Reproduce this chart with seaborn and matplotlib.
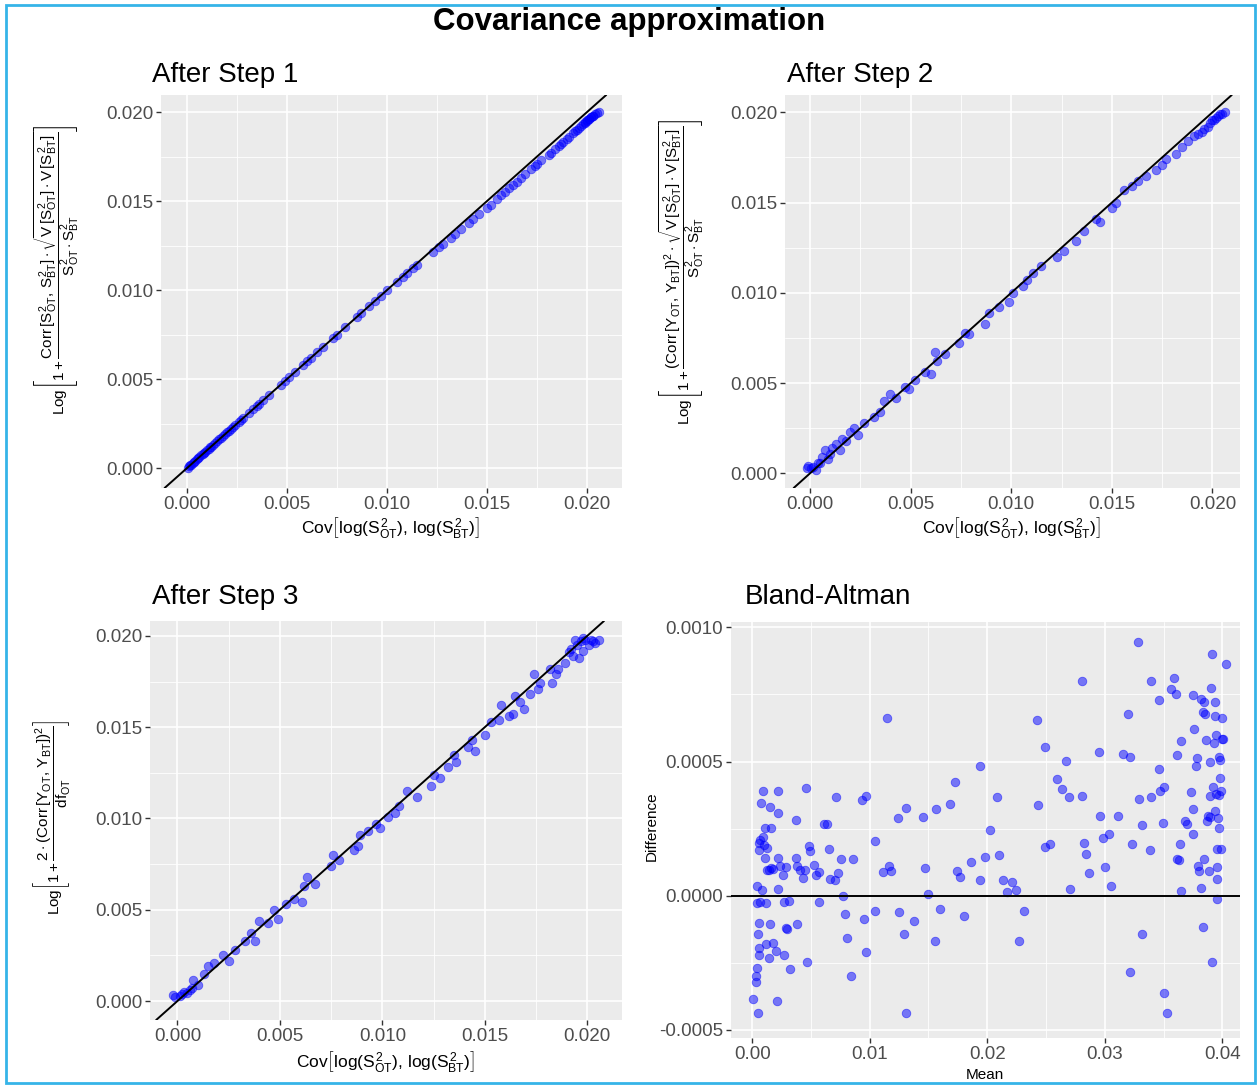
import numpy as np
import pandas as pd
import matplotlib
matplotlib.use("Agg")
import matplotlib.pyplot as plt
from matplotlib.patches import Rectangle
from matplotlib.ticker import FixedLocator, FormatStrFormatter
import seaborn as sns

# ---------------- data ----------------
# Step 1: covariance (x) vs. approximation (y)
step1_x = [0.00005, 0.0001, 0.00015, 0.0002, 0.0003, 0.00035, 0.0004, 0.0005, 0.00055, 0.0006,
           0.0007, 0.0008, 0.00085, 0.0009, 0.001, 0.0011, 0.00115, 0.0012, 0.0013, 0.0014,
           0.0015, 0.0016, 0.0017, 0.0018, 0.0019, 0.002, 0.0021, 0.0022, 0.0023, 0.0024,
           0.0026, 0.0027, 0.0028,
           0.0031, 0.0033, 0.0035, 0.0036, 0.0038, 0.0041,
           0.0047, 0.0049, 0.0051, 0.0054,
           0.0058, 0.006, 0.0062, 0.0065, 0.0068,
           0.0073, 0.0075, 0.0079,
           0.0085, 0.0087, 0.0091,
           0.0094, 0.0097, 0.01,
           0.0105, 0.0108, 0.011, 0.0113,
           0.0115,
           0.0123, 0.0126, 0.0128,
           0.0132, 0.0134, 0.0137,
           0.0141, 0.0143, 0.0146,
           0.015, 0.0152, 0.0155,
           0.0157, 0.0159, 0.0161, 0.0163,
           0.0165, 0.0167, 0.0169,
           0.0172, 0.0174, 0.0175, 0.0177,
           0.0181, 0.0182, 0.0184, 0.0186,
           0.0187, 0.0188, 0.019, 0.0191, 0.0193,
           0.0194, 0.0195, 0.0196, 0.0197, 0.0198, 0.0199, 0.0199, 0.02, 0.02, 0.0201,
           0.0201, 0.0202, 0.0202, 0.0203, 0.0203, 0.0204, 0.0205, 0.0206]
step1_y = [0.00003, 0.0001, 0.00016, 0.0002, 0.00028, 0.00036, 0.0004, 0.00049, 0.00056, 0.0006,
           0.00071, 0.00079, 0.00086, 0.0009, 0.001, 0.00109, 0.00116, 0.0012, 0.0013, 0.00139,
           0.0015, 0.00161, 0.0017, 0.00179, 0.0019, 0.002, 0.00211, 0.0022, 0.0023, 0.00241,
           0.0026, 0.0027, 0.00279,
           0.0031, 0.0033, 0.00349, 0.0036, 0.0038, 0.0041,
           0.00469, 0.0049, 0.0051, 0.0054,
           0.0058, 0.006, 0.00619, 0.0065, 0.0068,
           0.0073, 0.0075, 0.0079,
           0.00848, 0.0087, 0.00908,
           0.0094, 0.00968, 0.00998,
           0.01045, 0.01075, 0.01095, 0.01125,
           0.01142,
           0.01212, 0.0124, 0.0126,
           0.01295, 0.01315, 0.01342,
           0.01378, 0.01398, 0.01425,
           0.01462, 0.0148, 0.0151,
           0.01532, 0.01552, 0.01572, 0.0159,
           0.0161, 0.01632, 0.0165,
           0.01678, 0.01698, 0.0171, 0.0173,
           0.01758, 0.01772, 0.0179, 0.0181,
           0.0182, 0.0183, 0.0185, 0.0186, 0.0188,
           0.01895, 0.0190, 0.01912, 0.0192, 0.01932, 0.0194, 0.01945, 0.0195, 0.01955, 0.0196,
           0.01962, 0.0197, 0.01972, 0.0198, 0.0198, 0.0199, 0.01995, 0.0200]

# Step 2
step2_x = [-0.00017, -0.0001, 0.00005, 0.00017, 0.0003, 0.0004, 0.0005, 0.0006, 0.00075, 0.0009,
           0.001, 0.0011, 0.0013, 0.0015, 0.0016, 0.0018, 0.002, 0.0022, 0.0024, 0.0027,
           0.0032, 0.0035, 0.0037, 0.004, 0.0043, 0.0047, 0.0049, 0.0052, 0.0057, 0.006,
           0.0062, 0.0063, 0.0067, 0.0074, 0.0077, 0.0079, 0.0087, 0.0089, 0.0094, 0.0099,
           0.0101, 0.0106, 0.0108, 0.0111, 0.0115, 0.0123, 0.0126, 0.0132, 0.0136, 0.0142,
           0.0144, 0.015, 0.0152, 0.0156, 0.016, 0.0163, 0.0167, 0.0172, 0.0175, 0.0177,
           0.0182, 0.0185, 0.0188, 0.0191, 0.0193, 0.0195, 0.0196, 0.0198, 0.0199, 0.02,
           0.0201, 0.0202, 0.0203, 0.0204, 0.0205, 0.0206]
step2_y = [0.00028, 0.0004, 0.0003, 0.00037, 0.0002, 0.0006, 0.00055, 0.0009, 0.0013, 0.0008,
           0.0011, 0.0014, 0.0016, 0.0013, 0.0019, 0.0018, 0.0023, 0.0025, 0.0021, 0.0028,
           0.0031, 0.0034, 0.004, 0.0044, 0.0042, 0.0048, 0.0047, 0.0052, 0.0056, 0.0055,
           0.0067, 0.0062, 0.0066, 0.0072, 0.0078, 0.0077, 0.0083, 0.0089, 0.0092, 0.0095,
           0.01, 0.0104, 0.0107, 0.0111, 0.0115, 0.012, 0.0123, 0.0129, 0.0134, 0.0141,
           0.0139, 0.0147, 0.015, 0.0157, 0.0159, 0.0162, 0.0165, 0.0168, 0.0171, 0.0174,
           0.0177, 0.0181, 0.0184, 0.0187, 0.0188, 0.0189, 0.0191, 0.0192, 0.0194, 0.0196,
           0.0196, 0.0197, 0.0198, 0.0199, 0.0199, 0.0200]

# Step 3
step3_x = [-0.0002, -0.0001, 0.00013, 0.0002, 0.0003, 0.00046, 0.0006, 0.0007, 0.00078, 0.001,
           0.0013, 0.0015, 0.0018, 0.0022, 0.0025, 0.0028, 0.0033, 0.0036, 0.0038, 0.004,
           0.0044, 0.0047, 0.0049, 0.0053, 0.0057, 0.0061, 0.0063, 0.0062, 0.0067, 0.0075,
           0.0076, 0.0079, 0.0086, 0.0089, 0.0088, 0.0093, 0.0097, 0.0099, 0.0103, 0.0106,
           0.0108, 0.0112, 0.0117, 0.0124, 0.0125, 0.0128, 0.0132, 0.0135, 0.0136, 0.0142,
           0.0145, 0.0144, 0.015, 0.0153, 0.0157, 0.0158, 0.0162, 0.0164, 0.0165, 0.0167,
           0.0169, 0.0172, 0.0174, 0.0176, 0.0177, 0.0182, 0.0183, 0.0185, 0.0186, 0.0189,
           0.0191, 0.0192, 0.0193, 0.0194, 0.0195, 0.0196, 0.0197, 0.0198, 0.0198, 0.0199,
           0.0201, 0.0202, 0.0203, 0.0204, 0.0206]
step3_y = [0.00033, 0.0002, 0.00027, 0.0004, 0.0005, 0.00042, 0.0006, 0.0007, 0.00115, 0.00088,
           0.0015, 0.0019, 0.0021, 0.0025, 0.0022, 0.0028, 0.0033, 0.0037, 0.0033, 0.0044,
           0.0043, 0.005, 0.0045, 0.0053, 0.0056, 0.0054, 0.0068, 0.0063, 0.0064, 0.0074,
           0.008, 0.0077, 0.0083, 0.0091, 0.0085, 0.0093, 0.0097, 0.0095, 0.0101, 0.0103,
           0.0107, 0.0115, 0.0112, 0.0118, 0.0124, 0.0122, 0.0128, 0.0135, 0.0131, 0.0139,
           0.0137, 0.0143, 0.0146, 0.0153, 0.0154, 0.0162, 0.0156, 0.0157, 0.0167, 0.0164,
           0.016, 0.0168, 0.0179, 0.0171, 0.0174, 0.0182, 0.0174, 0.0179, 0.0182, 0.0185,
           0.0191, 0.0193, 0.0189, 0.0198, 0.0195, 0.0188, 0.0197, 0.0192, 0.0199, 0.0198,
           0.0195, 0.0198, 0.0197, 0.0196, 0.0198]

# Bland-Altman: mean vs. difference
ba_mean = [0.00007, 0.00049, 0.00209, 0.00035, 0.00035, 0.00045, 0.00056, 0.00059, 0.00115, 0.00146,
           0.00181, 0.00205, 0.00275, 0.0032, 0.00049, 0.00059, 0.00153, 0.00285, 0.003, 0.00379,
           0.00038, 0.00066, 0.00118, 0.00268, 0.00317, 0.00045, 0.00084, 0.00223, 0.00073, 0.00094,
           0.00223, 0.0015, 0.00223, 0.00369, 0.00111, 0.00157, 0.0007, 0.00094, 0.00059, 0.00101,
           0.00125, 0.00056, 0.00108, 0.00223, 0.00125, 0.00146, 0.0016, 0.00181, 0.0024, 0.00265,
           0.00285, 0.00369, 0.00379, 0.00404, 0.00432, 0.00449, 0.00456, 0.00484, 0.00494, 0.00529,
           0.00543, 0.00571, 0.00571, 0.0047,
           0.00613, 0.00634, 0.00651, 0.00661, 0.00707, 0.00728, 0.0071, 0.00755, 0.00773, 0.0079,
           0.00808, 0.00842, 0.00856, 0.00936, 0.00971, 0.00954, 0.00968, 0.01041, 0.01048, 0.01117,
           0.01149, 0.01163, 0.01184, 0.01239, 0.01246, 0.01295, 0.01309, 0.01312, 0.01375, 0.01455,
           0.01472, 0.015, 0.01556, 0.01566, 0.01601, 0.01685, 0.01727, 0.01744, 0.01768, 0.018,
           0.01859, 0.01935, 0.01939, 0.02022, 0.01984, 0.02082, 0.02096, 0.0213, 0.02165, 0.0221,
           0.02242, 0.02266, 0.02315, 0.02423, 0.02433, 0.02489, 0.02489, 0.02531, 0.02593, 0.02632,
           0.0267, 0.02694, 0.02701, 0.02802, 0.02809, 0.0282, 0.02844, 0.02868, 0.02948, 0.02955,
           0.02983, 0.03001, 0.03039, 0.03053, 0.03109, 0.03154, 0.03199, 0.0321, 0.0321, 0.03234,
           0.03283, 0.03293, 0.03314, 0.03314, 0.03387, 0.0339, 0.0339, 0.0346, 0.03464, 0.03471,
           0.03495, 0.03502, 0.03505, 0.0353, 0.03565, 0.03589, 0.03603, 0.03613, 0.03617, 0.03627,
           0.03638, 0.03645, 0.03645, 0.03679, 0.037, 0.03735, 0.03746, 0.03749, 0.03753, 0.03756,
           0.03773, 0.03784, 0.03791, 0.03805, 0.03815, 0.03822, 0.03833, 0.03836, 0.0384, 0.03843,
           0.0385, 0.03857, 0.03867, 0.03878, 0.03885, 0.03892, 0.03895, 0.03899, 0.03906, 0.03909,
           0.03913, 0.03923, 0.03927, 0.03934, 0.03937, 0.0394, 0.03944, 0.03947, 0.03954, 0.03954,
           0.03958, 0.03958, 0.03965, 0.03968, 0.03972, 0.03975, 0.03979, 0.03982, 0.03986, 0.03989,
           0.03993, 0.03996, 0.04003, 0.04031]
ba_diff = [-0.000385, -0.000437, -0.000391, -0.000323, -0.000299, -0.000268, -0.000219, -0.000194, -0.000181, -0.000231,
           -0.000175, -0.000206, -0.000219, -0.000272, -0.000142, -0.000101, -0.000104, -0.00012, -0.000123, -0.000104,
           -0.000027, -0.000025, -0.000027, -0.000025, -0.000021, 0.000037, 0.000022, 0.000025, 0.000347, 0.000389,
           0.00039, 0.00033, 0.00031, 0.000281, 0.000251, 0.000251, 0.000207, 0.00022, 0.000195, 0.000189,
           0.000179, 0.00017, 0.000142, 0.000142, 0.000096, 0.000096, 0.000102, 0.000099, 0.000112, 0.000078,
           0.000106, 0.00014, 0.000112, 0.000096, 0.000065, 0.000096, 0.000402, 0.000186, 0.000168, 0.000115,
           0.000078, 0.00009, -0.000025, -0.000246,
           0.000267, 0.000267, 0.000175, 0.000062, 0.000059, 0.000084, 0.000368, 0.000138, 0.0, -0.000067,
           -0.000159, -0.000299, 0.000136, 0.000358, 0.000373, -0.000086, -0.000209, 0.000204, -0.000058, 0.000088,
           0.000661, 0.000112, 0.000093, 0.000289, -0.000059, -0.000142, -0.000437, 0.000326, -0.000095, 0.000295,
           0.000104, 0.000006, -0.000168, 0.000325, -0.000051, 0.000342, 0.000422, 0.000093, 0.000069, -0.000074,
           0.000126, 0.000484, 0.000058, 0.000246, 0.000143, 0.000367, 0.000151, 0.000057, 0.000014, 0.000051,
           0.000022, -0.00017, -0.000058, 0.000654, 0.00034, 0.000554, 0.000183, 0.000191, 0.000435, 0.000396,
           0.000501, 0.000367, 0.000025, 0.00037, 0.000802, 0.000196, 0.000157, 0.000086, 0.000537, 0.000299,
           0.000216, 0.000109, 0.000231, 0.000035, 0.000299, 0.000527, 0.000679, 0.000516, -0.000284, 0.000191,
           0.000946, 0.000362, 0.000262, -0.000141, 0.00017, 0.000801, 0.000368, 0.000473, 0.000728, 0.000391,
           0.000272, 0.000405, -0.000363, -0.000435, 0.000772, 0.000811, 0.000753, 0.000525, 0.000136, 0.000133,
           0.000194, 0.000575, 0.000016, 0.000279, 0.000269, 0.000386, 0.000325, 0.00023, 0.000747, 0.000623,
           0.000485, 0.000515, 0.000112, 0.000094, 0.00003, 0.000732, 0.000683, -0.000117, 0.000136, 0.000723,
           0.000677, 0.00058, 0.000279, 0.000299, 0.000093, 0.000498, 0.000372, 0.000295, 0.000775, 0.000902,
           -0.000246, 0.000407, 0.000568, 0.000722, 0.000317, 0.000668, 0.0006, 0.00038, 0.000173, 0.000106,
           0.000063, -0.000011, 0.000291, 0.000374, 0.000251, 0.000517, 0.000438, 0.000504, 0.000175, 0.00039,
           0.000662, 0.000585, 0.000583, 0.000865]

cov_ticks = [0.000, 0.005, 0.010, 0.015, 0.020]
mean_ticks = [0.00, 0.01, 0.02, 0.03, 0.04]
diff_ticks = [-0.0005, 0.0000, 0.0005, 0.0010]

# ---------------- style ----------------
sns.set_theme(style="darkgrid", rc={
    "axes.facecolor": "#EBEBEB",
    "grid.color": "white",
    "axes.edgecolor": "#EBEBEB",
})
plt.rcParams["font.family"] = ["Liberation Sans", "DejaVu Sans"]
plt.rcParams["mathtext.fontset"] = "custom"
plt.rcParams["mathtext.rm"] = "Liberation Sans"
plt.rcParams["mathtext.it"] = "Liberation Sans"
plt.rcParams["mathtext.bf"] = "Liberation Sans:bold"
plt.rcParams["axes.unicode_minus"] = False

W, H = 1258, 1086
fig = plt.figure(figsize=(W / 100, H / 100), dpi=100)
fig.patch.set_facecolor("white")


def add_panel(left, top, right, bottom):
    return fig.add_axes([left / W, 1 - bottom / H, (right - left) / W, (bottom - top) / H])


def style_axes(ax, xt, yt, xminor, yminor, xfmt, yfmt):
    for s in ax.spines.values():
        s.set_visible(False)
    ax.xaxis.set_major_locator(FixedLocator(xt))
    ax.yaxis.set_major_locator(FixedLocator(yt))
    ax.xaxis.set_minor_locator(FixedLocator(xminor))
    ax.yaxis.set_minor_locator(FixedLocator(yminor))
    ax.xaxis.set_major_formatter(FormatStrFormatter(xfmt))
    ax.yaxis.set_major_formatter(FormatStrFormatter(yfmt))
    ax.grid(which="major", color="white", linewidth=1.2)
    ax.grid(which="minor", color="white", linewidth=0.6)
    ax.tick_params(which="major", length=3.5, width=1.0, color="#333333",
                   labelcolor="#4D4D4D", labelsize=13.5, pad=2,
                   bottom=True, left=True)
    ax.tick_params(which="minor", length=0)
    ax.set_xlabel("")
    ax.set_ylabel("")
    ax.set_axisbelow(True)


def scatter(ax, x, y):
    sns.scatterplot(x=x, y=y, ax=ax, color="#0000FF", alpha=0.5, s=38,
                    edgecolor="#0000FF", linewidth=0.6, legend=False, zorder=3)


cov_minor = [-0.0025, 0.0025, 0.0075, 0.0125, 0.0175, 0.0225]
xlab = r"$\mathrm{Cov}\left[\mathrm{log}(S^2_{OT}),\,\mathrm{log}(S^2_{BT})\right]$"

# Panel: After Step 1
ax1 = add_panel(161, 95, 622, 488)
scatter(ax1, step1_x, step1_y)
ax1.axline((0, 0), slope=1, color="black", linewidth=1.4, zorder=4)
ax1.set_xlim(-0.0013, 0.02175)
ax1.set_ylim(-0.00112, 0.02096)
style_axes(ax1, cov_ticks, cov_ticks, cov_minor, cov_minor, "%.3f", "%.3f")

# Panel: After Step 2
ax2 = add_panel(785, 95, 1240, 488)
scatter(ax2, step2_x, step2_y)
ax2.axline((0, 0), slope=1, color="black", linewidth=1.4, zorder=4)
ax2.set_xlim(-0.00124, 0.02137)
ax2.set_ylim(-0.00081, 0.02096)
style_axes(ax2, cov_ticks, cov_ticks, cov_minor, cov_minor, "%.3f", "%.3f")

# Panel: After Step 3
ax3 = add_panel(150, 621, 622, 1020)
scatter(ax3, step3_x, step3_y)
ax3.axline((0, 0), slope=1, color="black", linewidth=1.4, zorder=4)
ax3.set_xlim(-0.00134, 0.0217)
ax3.set_ylim(-0.00104, 0.02082)
style_axes(ax3, cov_ticks, cov_ticks, cov_minor, cov_minor, "%.3f", "%.3f")

# Panel: Bland-Altman
ax4 = add_panel(731, 622, 1240, 1038)
scatter(ax4, ba_mean, ba_diff)
ax4.axhline(0, color="black", linewidth=1.4, zorder=4)
ax4.set_xlim(-0.0018, 0.0415)
ax4.set_ylim(-0.00053, 0.00102)
style_axes(ax4, mean_ticks, diff_ticks,
           [0.005, 0.015, 0.025, 0.035], [-0.00025, 0.00025, 0.00075],
           "%.2f", "%.4f")

# Titles
fig.text(629 / W, 1 - 22 / H, "Covariance approximation", ha="center", va="center",
         fontsize=22.5, fontweight="bold", color="black")
for (x, y, s) in [(152, 75, "After Step 1"), (787, 75, "After Step 2"),
                  (152, 597, "After Step 3"), (745, 597, "Bland-Altman")]:
    fig.text(x / W, 1 - y / H, s, ha="left", va="center", fontsize=20, color="black")

# Axis labels
lab_kw = dict(ha="center", va="center", fontsize=11, color="black")
xlab_kw = dict(ha="center", va="center", fontsize=12.5, color="black")
fig.text(391 / W, 1 - 527 / H, xlab, **xlab_kw)
fig.text(1012 / W, 1 - 527 / H, xlab, **xlab_kw)
fig.text(386 / W, 1 - 1062 / H, xlab, **xlab_kw)
fig.text(985 / W, 1 - 1075 / H, "Mean", **lab_kw)

ylab1 = (r"$\mathrm{Log}\left[1+\dfrac{\mathrm{Corr}\,[S^2_{OT},\,S^2_{BT}]\cdot"
         r"\sqrt{V\,[S^2_{OT}]\cdot V\,[S^2_{BT}]}}{S^2_{OT}\cdot S^2_{BT}}\right]$")
ylab2 = (r"$\mathrm{Log}\left[1+\dfrac{(\mathrm{Corr}\,[Y_{OT},\,Y_{BT}])^2\cdot"
         r"\sqrt{V\,[S^2_{OT}]\cdot V\,[S^2_{BT}]}}{S^2_{OT}\cdot S^2_{BT}}\right]$")
ylab3 = (r"$\mathrm{Log}\left[1+\dfrac{2\cdot(\mathrm{Corr}\,[Y_{OT},\,Y_{BT}])^2}"
         r"{\mathrm{df}_{OT}}\right]$")
fig.text(57 / W, 1 - 270 / H, ylab1, rotation=90, **lab_kw)
fig.text(682 / W, 1 - 272 / H, ylab2, rotation=90, **lab_kw)
fig.text(52 / W, 1 - 817 / H, ylab3, rotation=90, **lab_kw)
fig.text(652 / W, 1 - 826 / H, "Difference", rotation=90, **lab_kw)

# Outer frame
fig.add_artist(Rectangle((6 / W, 3 / H), (1255 - 6) / W, (1083 - 5) / H,
                         transform=fig.transFigure, fill=False,
                         edgecolor="#35B4E8", linewidth=2.0))

fig.savefig("out.png", dpi=100, facecolor="white")
